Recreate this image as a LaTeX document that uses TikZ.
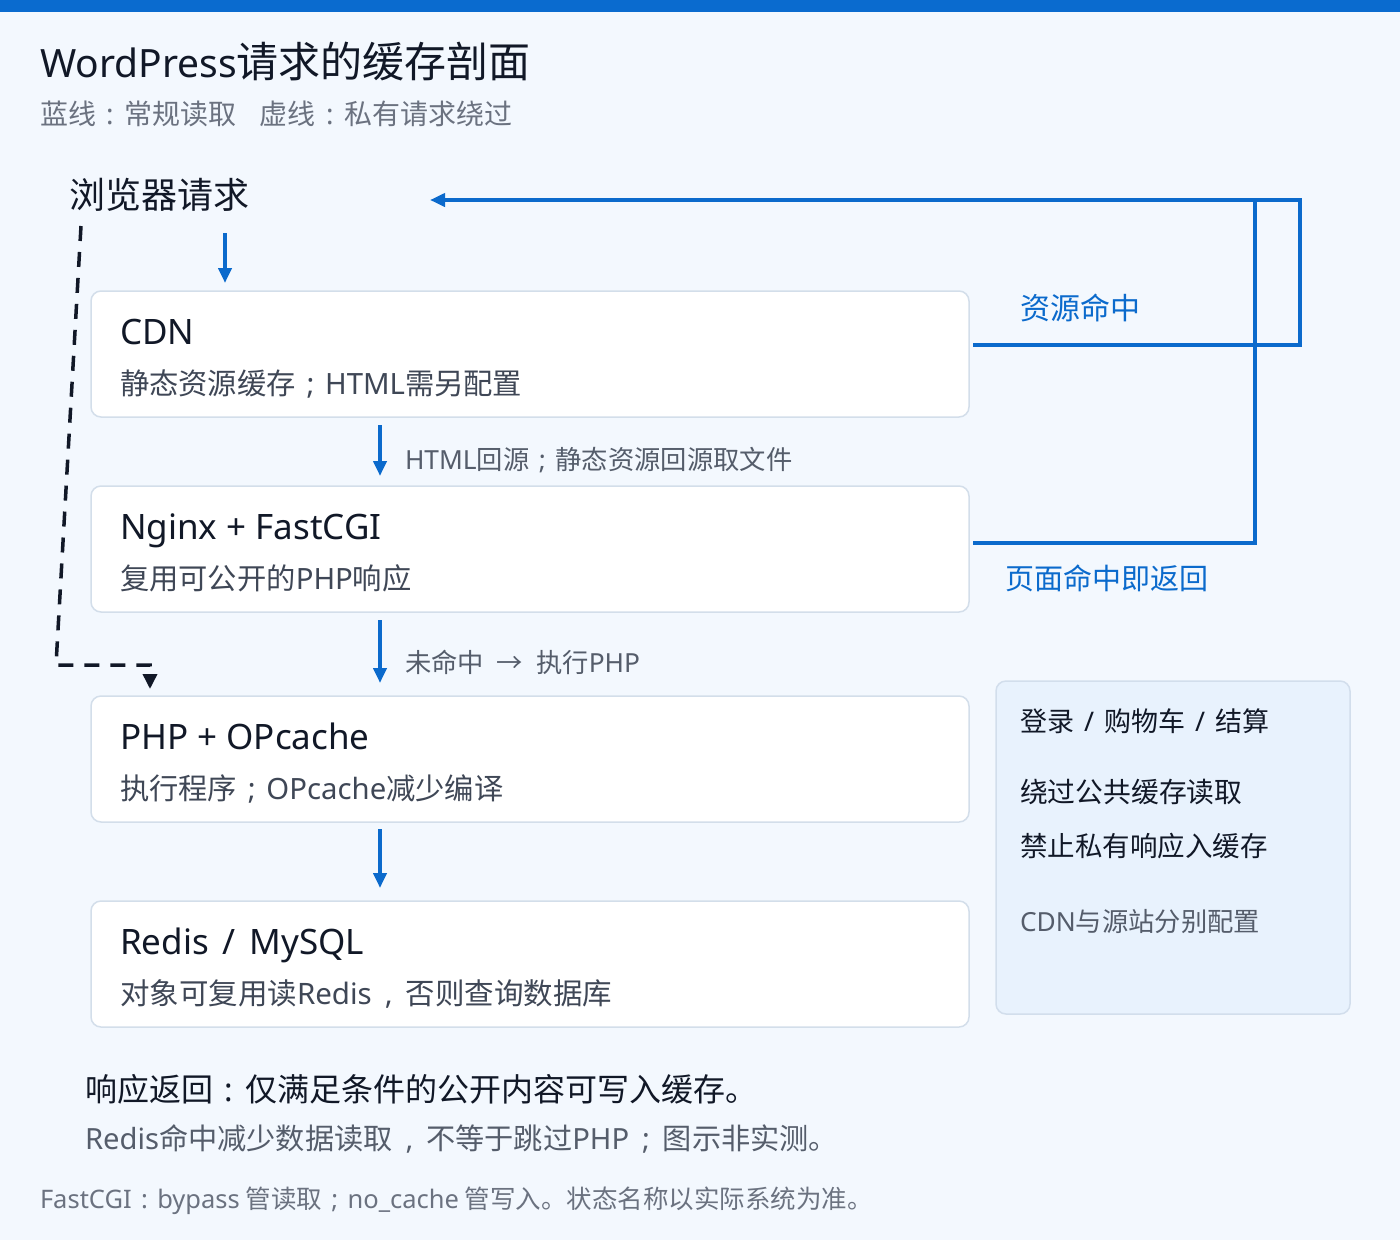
\documentclass[tikz,border=0pt]{standalone}
\usepackage{fontspec}
\setmainfont{Noto Sans CJK SC}
\newfontfamily\lt{Noto Sans}
\usetikzlibrary{arrows.meta}
\definecolor{bgc}{HTML}{F3F8FE}
\definecolor{barc}{HTML}{0A6BCF}
\definecolor{flowc}{HTML}{0B6ACC}
\definecolor{darkc}{HTML}{111827}
\definecolor{subc}{HTML}{6B7280}
\definecolor{bodyc}{HTML}{3F4756}
\definecolor{labc}{HTML}{555D6B}
\definecolor{edgec}{HTML}{D3DEEA}
\definecolor{panelc}{HTML}{E8F2FD}
\definecolor{paneledge}{HTML}{D2DEEC}
\newcommand{\fs}[1]{\fontsize{#1}{#1}\selectfont}
\newcommand{\fcolon}{\makebox[1em][c]{\lt :}}
\newcommand{\fsemi}{\makebox[1em][c]{\lt ;}}
\newcommand{\wsemi}{\makebox[1.15em][c]{\lt ;}}
\newcommand{\wcomma}{\makebox[1.15em][c]{\lt ,}}
\tikzset{
  card/.style={draw=edgec, line width=1.5pt, fill=white, rounded corners=10pt, rectangle, inner sep=0pt},
  txt/.style={anchor=base west, inner sep=0pt, outer sep=0pt},
  flow/.style={draw=flowc, line width=4pt, -{Triangle[width=13pt,length=15pt]}},
  flowline/.style={draw=flowc, line width=4pt},
  bypass/.style={draw=darkc, line width=3.5pt, dash pattern=on 15pt off 11pt, -{Triangle[width=14pt,length=15pt]}},
}
\begin{document}
\begin{tikzpicture}[x=1pt,y=-1pt]
\useasboundingbox (0,0) rectangle (1400,1240);
\fill[bgc] (0,0) rectangle (1400,1240);
\fill[barc] (0,0) rectangle (1400,12);

% title
\node[txt, text=darkc] (title) at (40,77) {{\lt\fs{39}WordPress}\fs{42}请求的缓存剖面};
\node[txt, text=subc] (subtitle) at (40,124) {\fs{28}蓝线\fcolon 常规读取\hspace{24pt}虚线\fcolon 私有请求绕过};

% browser
\node[txt, text=darkc] (browser) at (69,208) {\fs{36}浏览器请求};

% boxes
\node[card, minimum width=878pt, minimum height=126pt] (cdn) at (530,354) {};
\node[card, minimum width=878pt, minimum height=126pt] (nginx) at (530,549) {};
\node[card, minimum width=878pt, minimum height=126pt] (php) at (530,759) {};
\node[card, minimum width=878pt, minimum height=126pt] (redis) at (530,964) {};

\node[txt, text=darkc] (cdnT) at (120,344) {\lt\fs{35}CDN};
\node[txt, text=bodyc] (cdnS) at (120,394) {\fs{29.3}静态资源缓存\fsemi{\lt HTML}需另配置};
\node[txt, text=darkc] (ngT) at (120,539) {\lt\fs{35}Nginx + FastCGI};
\node[txt, text=bodyc] (ngS) at (120,589) {\fs{29.3}复用可公开的{\lt PHP}响应};
\node[txt, text=darkc] (phpT) at (120,749) {\lt\fs{35}PHP + OPcache};
\node[txt, text=bodyc] (phpS) at (120,799) {\fs{29.3}执行程序\fsemi{\lt OPcache}减少编译};
\node[txt, text=darkc] (rdT) at (120,954) {\lt\fs{35}Redis\hspace{14pt}/\hspace{14pt}MySQL};
\node[txt, text=bodyc] (rdS) at (120,1004) {\fs{29.5}对象可复用读{\lt Redis}\wcomma 否则查询数据库};

% vertical flow arrows
\coordinate (a1s) at (225,233);
\coordinate (a1e) at (225,283);
\coordinate (a2s) at (380,425);
\coordinate (a2e) at (380,476);
\coordinate (a3s) at (380,620);
\coordinate (a3e) at (380,683);
\coordinate (a4s) at (380,829);
\coordinate (a4e) at (380,888);
\draw[flow] (a1s) -- (a1e);
\draw[flow] (a2s) -- (a2e);
\draw[flow] (a3s) -- (a3e);
\draw[flow] (a4s) -- (a4e);

\node[txt, text=labc] (l1) at (405,469) {\fs{26.3}{\lt HTML}回源\fsemi 静态资源回源取文件};
\node[txt, text=labc] (l2) at (405,672) {\fs{26.3}未命中\hspace{13pt}→\hspace{13pt}执行{\lt PHP}};

% return lines
\coordinate (cdnR) at (975,345);
\coordinate (ngR) at (975,543);
\coordinate (retTip) at (430,200);
\draw[flowline, line cap=rect] (cdnR) -| (1300,200) -- (1255,200);
\draw[flowline, line cap=rect] (ngR) -| (1255,200);
\draw[flow] (1255,200) -- (retTip);

\node[txt, text=flowc] (hit1) at (1020,319) {\fs{30}资源命中};
\node[txt, text=flowc] (hit2) at (1005,589) {\fs{29}页面命中即返回};

% bypass dashed
\coordinate (bs) at (81,226);
\coordinate (bc) at (56,665);
\coordinate (be) at (150,689);
\draw[bypass] (bs) -- (bc) -- (150,665) -- (be);

% side panel
\node[draw=paneledge, line width=1.5pt, fill=panelc, rounded corners=10pt, minimum width=354pt, minimum height=333pt, inner sep=0pt] (panel) at (1173,847.5) {};
\node[txt, text=darkc] (p1) at (1020,731) {\fs{27}登录\hspace{10pt}{\lt /}\hspace{10pt}购物车\hspace{10pt}{\lt /}\hspace{10pt}结算};
\node[txt, text=darkc] (p2) at (1020,802) {\fs{27.8}绕过公共缓存读取};
\node[txt, text=darkc] (p3) at (1020,856) {\fs{27.5}禁止私有响应入缓存};
\node[txt, text=labc] (p4) at (1020,931) {\fs{26.3}{\lt CDN}与源站分别配置};

% bottom notes
\node[txt, text=darkc] (n1) at (85,1101) {\fs{32}响应返回\fcolon 仅满足条件的公开内容可写入缓存。};
\node[txt, text=labc] (n2) at (85,1149) {\fs{29.2}{\lt Redis}命中减少数据读取\wcomma 不等于跳过{\lt PHP}\wsemi 图示非实测。};
\node[txt, text=subc] (n3) at (40,1208) {\fs{25.5}{\lt FastCGI}\fcolon{\lt bypass} 管读取\fsemi{\lt no\_cache} 管写入。状态名称以实际系统为准。};
\end{tikzpicture}
\end{document}
